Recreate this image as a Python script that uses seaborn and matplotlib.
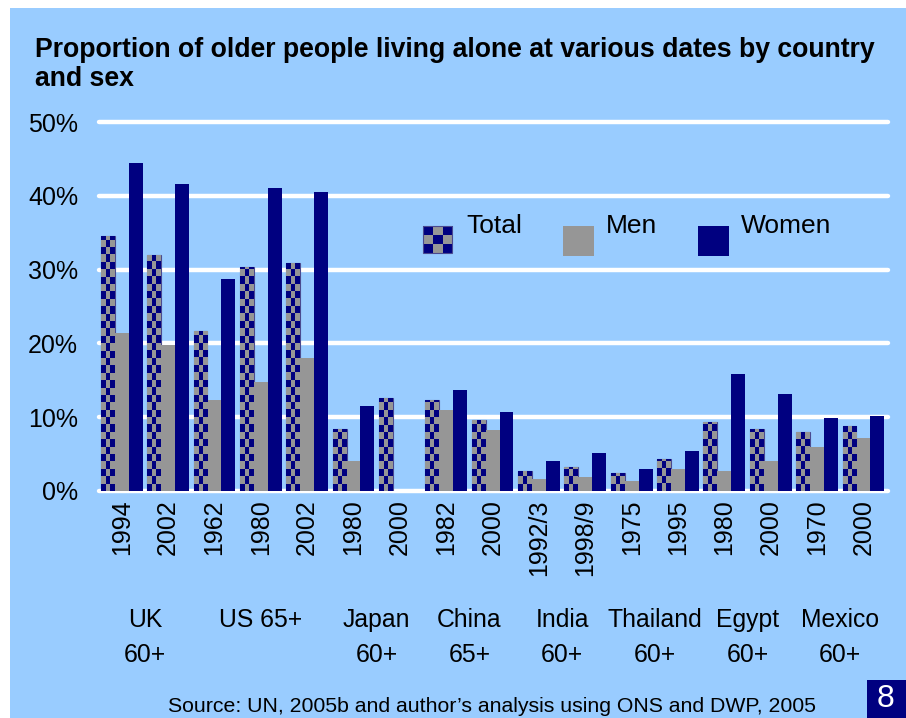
import numpy as np
import pandas as pd
import matplotlib
matplotlib.use("Agg")
import matplotlib.pyplot as plt
import seaborn as sns
from matplotlib.colors import ListedColormap
from matplotlib.patches import Rectangle
from matplotlib import transforms

# data (percent living alone)
years = ["1994", "2002", "1962", "1980", "2002", "1980", "2000", "1982", "2000",
         "1992/3", "1998/9", "1975", "1995", "1980", "2000", "1970", "2000"]
total = [34.5, 32.0, 21.7, 30.4, 30.9, 8.4, 12.6, 12.3, 9.6,
         2.7, 3.25, 2.4, 4.35, 9.35, 8.4, 8.0, 8.8]
men = [21.4, 19.8, 12.3, 14.8, 18.0, 4.1, np.nan, 11.0, 8.3,
       1.6, 1.9, 1.35, 3.0, 2.7, 4.1, 6.0, 7.2]
women = [44.4, 41.6, 28.7, 41.1, 40.5, 11.5, np.nan, 13.7, 10.7,
         4.1, 5.15, 3.0, 5.4, 15.9, 13.2, 9.9, 10.2]

group_names = ["UK", "US 65+", "Japan", "China", "India", "Thailand", "Egypt", "Mexico"]
group_ages = ["60+", "", "60+", "65+", "60+", "60+", "60+", "60+"]
group_sizes = [2, 3, 2, 2, 2, 2, 2, 2]

series = ["Total", "Men", "Women"]

NAVY = "#000080"
GREY = "#969696"
BG = "#99CCFF"

sns.set_style("white")
plt.rcParams["font.family"] = ["Liberation Sans", "DejaVu Sans"]
plt.rcParams["text.color"] = "black"
plt.rcParams["xtick.color"] = "black"
plt.rcParams["ytick.color"] = "black"

keys = [f"{i:02d}" for i in range(len(years))]
df = pd.DataFrame({"key": keys, "Total": total, "Men": men, "Women": women})
long = df.melt(id_vars="key", var_name="series", value_name="pct").dropna()

fig = plt.figure(figsize=(9.06, 7.18), dpi=100)
fig.patch.set_facecolor("white")
fig.patches.append(Rectangle((10 / 906, 0), 1, 1 - 8 / 718, transform=fig.transFigure,
                             facecolor=BG, edgecolor="none", zorder=-10))

ax = fig.add_axes([99 / 906, 1 - 491 / 718, 789 / 906, 369 / 718])
ax.set_facecolor("none")

sns.barplot(data=long, x="key", y="pct", hue="series", order=keys, hue_order=series,
            palette={"Total": GREY, "Men": GREY, "Women": NAVY}, saturation=1,
            width=0.9, linewidth=0, legend=False, ax=ax)

checker = ListedColormap([NAVY, GREY])


def fill_checker(patch, cell_h=1.0, ncols=3):
    x0, w, h = patch.get_x(), patch.get_width(), patch.get_height()
    if not np.isfinite(h) or h <= 0:
        return
    nrows = int(np.ceil(h / cell_h))
    grid = np.indices((nrows, ncols)).sum(axis=0) % 2
    img = ax.imshow(grid, cmap=checker, extent=[x0, x0 + w, 0, nrows * cell_h],
                    origin="lower", interpolation="nearest", aspect="auto",
                    zorder=patch.get_zorder() + 0.1)
    img.set_clip_path(patch)
    patch.set_edgecolor("#4a4a90")
    patch.set_linewidth(0.8)


# Total bars get the navy/grey checker fill
for p in ax.containers[0]:
    fill_checker(p)

ax.set_xlim(-0.49, len(years) - 0.47)
ax.set_ylim(0, 50)
ax.set_yticks(range(0, 51, 10))
ax.set_yticklabels([f"{v}%" for v in range(0, 51, 10)])
ax.set_xticks(range(len(years)))
ax.set_xticklabels(years, rotation=90)
ax.tick_params(axis="y", length=0, pad=15, labelsize=18)
ax.tick_params(axis="x", length=0, pad=6, labelsize=18)
ax.set_xlabel("")
ax.set_ylabel("")
sns.despine(ax=ax, left=True, bottom=True)
ax.set_axisbelow(True)
ax.yaxis.grid(True, color="white", linewidth=3.2)
for gl in ax.get_ygridlines():
    gl.set_clip_on(False)

# country labels under the year ticks
trans = transforms.blended_transform_factory(ax.transData, fig.transFigure)
start = 0
for name, age, n in zip(group_names, group_ages, group_sizes):
    cx = start + (n - 1) / 2
    ax.text(cx, 1 - 620 / 718, name, transform=trans, ha="center", va="center", fontsize=17.8)
    if age:
        ax.text(cx, 1 - 655 / 718, age, transform=trans, ha="center", va="center", fontsize=17.8)
    start += n

# legend drawn by hand (Excel style: text sits above the swatch centre)
def legend_checker(x0, y0, w, h):
    grid = np.indices((3, 3)).sum(axis=0) % 2
    ax.imshow(grid, cmap=checker, extent=[x0, x0 + w, y0, y0 + h], origin="upper",
              interpolation="nearest", aspect="auto", transform=ax.transAxes, zorder=5)
    ax.add_patch(Rectangle((x0, y0), w, h, transform=ax.transAxes, facecolor="none",
                           edgecolor="#4a4a90", linewidth=0.8, zorder=6))


legend_checker(0.4106, 0.645, 0.037, 0.073)
ax.add_patch(Rectangle((0.588, 0.637), 0.039, 0.081, transform=ax.transAxes,
                       facecolor=GREY, edgecolor="none", zorder=5))
ax.add_patch(Rectangle((0.759, 0.637), 0.039, 0.081, transform=ax.transAxes,
                       facecolor=NAVY, edgecolor="none", zorder=5))
for x, lab in [(0.465, "Total"), (0.643, "Men"), (0.813, "Women")]:
    ax.text(x, 0.717, lab, transform=ax.transAxes, ha="left", va="center", fontsize=19, zorder=6)

fig.text(35 / 906, 1 - 37 / 718,
         "Proportion of older people living alone at various dates by country\nand sex",
         ha="left", va="top", fontsize=19.2, fontweight="bold", linespacing=1.15)

fig.text(492 / 906, 1 - 706 / 718,
         "Source: UN, 2005b and author\u2019s analysis using ONS and DWP, 2005",
         ha="center", va="center", fontsize=15.3)

fig.patches.append(Rectangle((867 / 906, 0), 39 / 906, 38 / 718, transform=fig.transFigure,
                             facecolor=NAVY, edgecolor="none", zorder=1))
fig.text(886 / 906, 1 - 699 / 718, "8", color="white", ha="center", va="center", fontsize=23)

fig.savefig("out.png", dpi=100)
